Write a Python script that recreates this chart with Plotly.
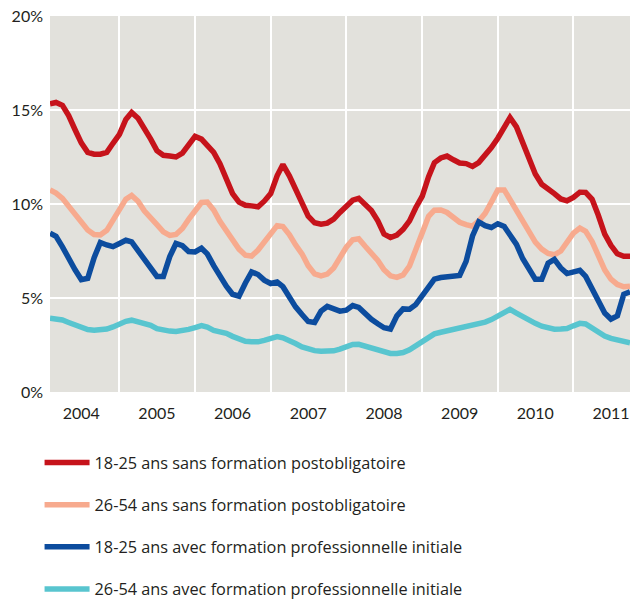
import plotly.graph_objects as go
import pandas as pd

months = pd.date_range("2004-02-01", "2011-10-01", freq="MS")

red_18_25_sans = [15.33, 15.40, 15.25, 14.70, 13.95, 13.25, 12.75, 12.65, 12.65, 12.75, 13.23, 13.70,
                  14.50, 14.87, 14.56, 14.04, 13.45, 12.84, 12.59, 12.55, 12.50, 12.70, 13.15, 13.60,
                  13.45, 13.10, 12.75, 12.15, 11.35, 10.55, 10.10, 9.93, 9.90, 9.85, 10.15, 10.55,
                  11.50, 12.10, 11.50, 10.75, 10.05, 9.35, 9.00, 8.93, 8.98, 9.20, 9.55, 9.85,
                  10.20, 10.30, 9.95, 9.65, 9.10, 8.40, 8.22, 8.35, 8.65, 9.10, 9.80, 10.40,
                  11.45, 12.20, 12.45, 12.55, 12.35, 12.18, 12.15, 12.00, 12.20, 12.60, 13.00, 13.50,
                  14.10, 14.60, 14.10, 13.30, 12.40, 11.60, 11.05, 10.75, 10.55, 10.27, 10.17, 10.35,
                  10.63, 10.62, 10.25, 9.40, 8.40, 7.80, 7.35, 7.22, 7.22]

pink_26_54_sans = [10.75, 10.58, 10.30, 9.87, 9.43, 9.03, 8.62, 8.38, 8.35, 8.60, 9.15, 9.72,
                   10.26, 10.46, 10.15, 9.64, 9.30, 8.90, 8.52, 8.33, 8.38, 8.70, 9.18, 9.65,
                   10.08, 10.10, 9.68, 9.08, 8.55, 8.05, 7.60, 7.28, 7.23, 7.55, 7.98, 8.45,
                   8.85, 8.80, 8.38, 7.83, 7.35, 6.72, 6.28, 6.18, 6.27, 6.60, 7.20, 7.70,
                   8.10, 8.15, 7.75, 7.40, 7.00, 6.50, 6.18, 6.10, 6.23, 6.70, 7.55, 8.45,
                   9.35, 9.67, 9.68, 9.55, 9.30, 9.03, 8.90, 8.82, 9.10, 9.50, 10.10, 10.75,
                   10.75, 10.20, 9.70, 9.10, 8.53, 7.97, 7.60, 7.37, 7.30, 7.50, 7.97, 8.45,
                   8.72, 8.55, 8.00, 7.20, 6.50, 6.00, 5.72, 5.60, 5.63]

blue_18_25_avec = [8.45, 8.28, 7.72, 7.08, 6.50, 5.98, 6.05, 7.15, 7.95, 7.82, 7.73, 7.90,
                   8.07, 7.98, 7.54, 7.08, 6.60, 6.15, 6.15, 7.20, 7.90, 7.78, 7.47, 7.45,
                   7.65, 7.35, 6.72, 6.13, 5.63, 5.20, 5.10, 5.80, 6.39, 6.25, 5.95, 5.77,
                   5.85, 5.60, 5.05, 4.53, 4.12, 3.75, 3.70, 4.30, 4.55, 4.45, 4.30, 4.35,
                   4.60, 4.50, 4.15, 3.87, 3.63, 3.42, 3.35, 4.05, 4.42, 4.40, 4.65, 5.15,
                   5.65, 6.00, 6.09, 6.12, 6.10, 6.20, 6.95, 8.30, 9.05, 8.85, 8.75, 8.95,
                   8.80, 8.40, 7.85, 7.10, 6.50, 6.00, 6.00, 6.85, 7.05, 6.60, 6.30, 6.35,
                   6.47, 6.15, 5.45, 4.75, 4.20, 3.88, 4.05, 5.20, 5.33]

cyan_26_54_avec = [3.92, 3.90, 3.83, 3.70, 3.55, 3.42, 3.32, 3.29, 3.29, 3.35, 3.46, 3.62,
                   3.76, 3.82, 3.75, 3.66, 3.55, 3.37, 3.27, 3.24, 3.22, 3.24, 3.33, 3.43,
                   3.53, 3.45, 3.28, 3.20, 3.12, 2.96, 2.82, 2.70, 2.67, 2.67, 2.75, 2.83,
                   2.95, 2.88, 2.75, 2.58, 2.40, 2.28, 2.20, 2.17, 2.16, 2.19, 2.28, 2.38,
                   2.53, 2.54, 2.44, 2.33, 2.22, 2.12, 2.05, 2.05, 2.10, 2.25, 2.48, 2.70,
                   2.95, 3.09, 3.18, 3.26, 3.33, 3.43, 3.52, 3.56, 3.61, 3.72, 3.85, 4.05,
                   4.25, 4.39, 4.20, 4.00, 3.82, 3.65, 3.50, 3.42, 3.34, 3.35, 3.38, 3.52,
                   3.65, 3.62, 3.42, 3.15, 2.98, 2.85, 2.75, 2.68, 2.62]

series_names = ["18-25 ans sans formation postobligatoire",
                "26-54 ans sans formation postobligatoire",
                "18-25 ans avec formation professionnelle initiale",
                "26-54 ans avec formation professionnelle initiale"]
series_colors = ["#c6131b", "#f7aa8e", "#0c4c9e", "#58c5cf"]
series_values = [red_18_25_sans, pink_26_54_sans, blue_18_25_avec, cyan_26_54_avec]

year_labels = ["2004", "2005", "2006", "2007", "2008", "2009", "2010", "2011"]
year_label_pos = [f"{y}-07-01" for y in year_labels]
y_ticks = [0, 5, 10, 15, 20]
y_tick_text = ["0%", "5%", "10%", "15%", "20%"]

fig = go.Figure()
for i, (name, col, vals) in enumerate(zip(series_names, series_colors, series_values)):
    fig.add_trace(go.Scatter(
        x=months, y=vals, mode="lines", name=name,
        line=dict(color=col, width=5.5),
        legendgroup=f"g{i}",
    ))

font_family = "Lato, 'Noto Sans', sans-serif"
fig.update_layout(
    width=630, height=604,
    margin=dict(l=50, r=0, t=16, b=212, autoexpand=False),
    paper_bgcolor="white",
    plot_bgcolor="#e2e1dc",
    font=dict(family=font_family, color="#231f20", size=15),
    showlegend=True,
    legend=dict(
        x=-0.018, xanchor="left", y=-0.142, yanchor="top",
        orientation="v",
        font=dict(size=16.3, family="'Open Sans', sans-serif", color="#231f20"),
        tracegroupgap=18,
        itemwidth=45,
        bgcolor="rgba(0,0,0,0)",
    ),
    xaxis=dict(
        type="date",
        range=["2004-02-01", "2011-10-01"],
        tickmode="array",
        tickvals=year_label_pos,
        ticktext=year_labels,
        showgrid=False,
        ticks="",
        zeroline=False,
        showline=False,
        automargin=False,
        ticklabelstandoff=10,
        tickfont=dict(size=16),
        minor=dict(dtick="M12", tick0="2004-01-01", showgrid=True, gridcolor="white", gridwidth=1.5, ticks=""),
    ),
    xaxis2=dict(
        type="date",
        overlaying="x",
        matches="x",
        side="bottom",
        dtick="M1",
        tick0="2004-01-01",
        ticks="inside",
        ticklen=8,
        tickwidth=1,
        tickcolor="#d6d5cf",
        showticklabels=False,
        showgrid=False,
        zeroline=False,
        showline=False,
    ),
    yaxis=dict(
        range=[0, 20],
        tickmode="array",
        tickvals=y_ticks,
        ticktext=y_tick_text,
        showgrid=True,
        gridcolor="white",
        gridwidth=1.5,
        zeroline=False,
        showline=False,
        ticks="",
        automargin=False,
        ticklabelstandoff=6,
        tickfont=dict(size=16),
    ),
)

fig.write_html("out.html", config={"displayModeBar": False},
               post_script="document.body.style.margin='0';document.body.style.overflow='hidden';")
